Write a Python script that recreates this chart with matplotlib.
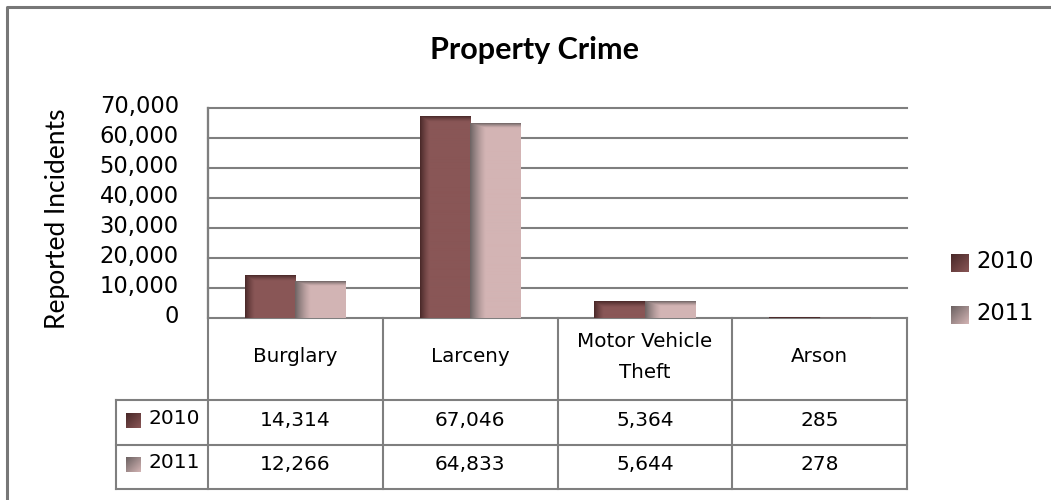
import numpy as np
import matplotlib
matplotlib.use("Agg")
import matplotlib.pyplot as plt
from matplotlib.lines import Line2D
from matplotlib.transforms import blended_transform_factory, ScaledTranslation

# ---------------- data ----------------
categories = ["Burglary", "Larceny", "Motor Vehicle\nTheft", "Arson"]
series_names = ["2010", "2011"]
values_2010 = [14314, 67046, 5364, 285]
values_2011 = [12266, 64833, 5644, 278]
y_ticks = [0, 10000, 20000, 30000, 40000, 50000, 60000, 70000]
title = "Property Crime"
y_label = "Reported Incidents"

# ---------------- style ----------------
W, H = 1051, 500
DPI = 100
LINE = "#7f7f7f"
MAIN = [np.array([137, 86, 86]) / 255, np.array([211, 180, 180]) / 255]
DARK = [np.array([72, 40, 40]) / 255, np.array([108, 98, 98]) / 255]
BODY = "DejaVu Sans"
HEAD = "Lato"

def X(x):
    return x / W

def Y(y):
    return 1 - y / H

fig = plt.figure(figsize=(W / DPI, H / DPI), dpi=DPI)
fig.patch.set_facecolor("white")

# plot area in pixels: x 208..907, y 108..318
ax = fig.add_axes([X(208), Y(318), X(907) - X(208), (318 - 108) / H])
ax.set_xlim(-0.5, len(categories) - 0.5)
ax.set_ylim(0, 70000)
ax.set_facecolor("none")
for s in ["top", "right", "bottom"]:
    ax.spines[s].set_visible(False)
ax.spines["left"].set_color(LINE)
ax.spines["left"].set_linewidth(1.6)
ax.set_xticks([])
ax.set_yticks(y_ticks)
ax.set_yticklabels([f"{t:,}" for t in y_ticks], fontsize=16.3, family=BODY)
ax.tick_params(axis="y", length=0, pad=21)
lift = ScaledTranslation(0, 4 / DPI, fig.dpi_scale_trans)
for lab in ax.get_yticklabels():
    lab.set_va("center_baseline")
    lab.set_transform(lab.get_transform() + lift)
for t in y_ticks:
    ax.axhline(t, color=LINE, lw=1.5, clip_on=False, zorder=0.5)

# bars
bw = 0.289
xs = np.arange(len(categories))
series = [values_2010, values_2011]
fig.canvas.draw()
px_per_x = ax.transData.transform((1, 0))[0] - ax.transData.transform((0, 0))[0]
px_per_y = ax.transData.transform((0, 1))[1] - ax.transData.transform((0, 0))[1]

def grad_img(wpx, hpx, main, dark, lx, ly):
    wpx = max(int(round(wpx)), 1)
    hpx = max(int(round(hpx)), 1)
    dx = np.arange(wpx)[None, :] + 0.5
    dy = np.arange(hpx)[:, None] + 0.5
    gx = np.clip(1 - dx / lx, 0, 1) ** 1.3
    gy = np.clip(1 - dy / ly, 0, 1) ** 1.3
    g = np.maximum(gx, gy)[..., None]
    return main[None, None, :] * (1 - g) + dark[None, None, :] * g

for si, vals in enumerate(series):
    off = (si - 0.5) * bw
    bars = ax.bar(xs + off, vals, width=bw, color=MAIN[si], zorder=2, linewidth=0)
    lx, ly = (10, 6) if si == 0 else (16, 5)
    for b in bars:
        x0, w, h = b.get_x(), b.get_width(), b.get_height()
        img = grad_img(w * px_per_x, h * px_per_y, MAIN[si], DARK[si], lx, ly)
        ax.imshow(img, extent=(x0, x0 + w, 0, h), aspect="auto", zorder=2.5,
                  interpolation="bilinear", origin="upper")
ax.set_xlim(-0.5, len(categories) - 0.5)
ax.set_ylim(0, 70000)

# title and y label
fig.text(X(534), Y(50), title, fontsize=22, fontweight="bold", family=HEAD,
         ha="center", va="center")
fig.text(X(58), Y(219), y_label, fontsize=19, family=HEAD, rotation=90,
         ha="center", va="center")

# outer chart border (left & top visible)
fig.add_artist(Line2D([X(7), X(7), X(W + 5)], [Y(H + 5), Y(7), Y(7)],
                      color="#777777", lw=2.2, transform=fig.transFigure))

# data table
bt = blended_transform_factory(ax.transData, fig.transFigure)
edges = np.arange(len(categories) + 1) - 0.5
tbl_lw = 1.5
for yy in [400, 445, 489]:
    fig.add_artist(Line2D([X(116), X(907)], [Y(yy), Y(yy)], color=LINE, lw=tbl_lw,
                          transform=fig.transFigure))
fig.add_artist(Line2D([X(116), X(116)], [Y(400), Y(489)], color=LINE, lw=tbl_lw,
                      transform=fig.transFigure))
for i, e in enumerate(edges):
    top = 108 if i == 0 else 318
    ax.add_line(Line2D([e, e], [Y(top), Y(489)], color=LINE, lw=tbl_lw,
                       transform=bt, clip_on=False))

for i, c in enumerate(categories):
    ax.text(i, Y(357), c, transform=bt, ha="center", va="center", fontsize=14.3,
            family=BODY, linespacing=1.75, clip_on=False)
    ax.text(i, Y(420), f"{values_2010[i]:,}", transform=bt, ha="center", va="center",
            fontsize=14.5, family=BODY, clip_on=False)
    ax.text(i, Y(464), f"{values_2011[i]:,}", transform=bt, ha="center", va="center",
            fontsize=14.5, family=BODY, clip_on=False)

def key_square(x0, y0, size, si):
    kax = fig.add_axes([X(x0), Y(y0 + size), size / W, size / H])
    n = 30
    t = (np.arange(n)[:, None] + np.arange(n)[None, :]) / (2 * n - 2)
    img = DARK[si][None, None, :] * (1 - t[..., None]) + MAIN[si][None, None, :] * t[..., None]
    kax.imshow(img, aspect="auto", interpolation="bilinear")
    kax.axis("off")

# table legend keys
for si, yc in enumerate([420, 464]):
    key_square(126, yc - 7, 15, si)
    fig.text(X(148), Y(yc - 2), series_names[si], fontsize=14.5, family=BODY,
             ha="left", va="center")

# right legend
for si, yc in enumerate([263, 315]):
    key_square(951, yc - 9, 18, si)
    fig.text(X(976), Y(yc - 2), series_names[si], fontsize=16.3, family=BODY,
             ha="left", va="center")

fig.savefig("out.png", dpi=DPI, facecolor="white")
